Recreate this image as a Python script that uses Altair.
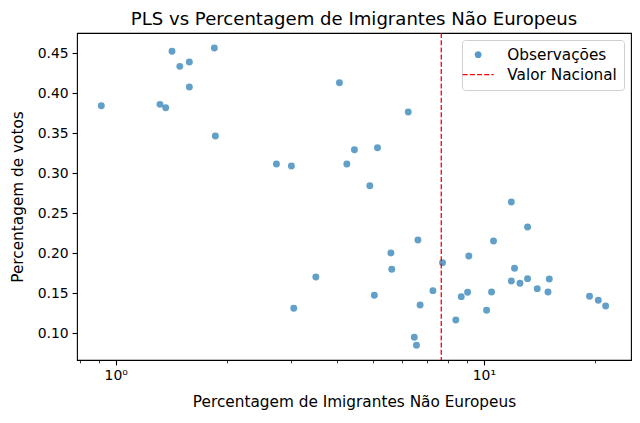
import altair as alt
import pandas as pd

pct_imigrantes = [0.914, 1.319, 1.367, 1.422, 1.493, 1.585, 1.585, 1.853, 1.865, 2.732,
                  3.001, 4.052, 4.244, 6.23, 4.45, 5.14, 4.90, 3.045, 3.496, 5.04,
                  5.59, 5.62, 6.62, 6.47, 6.56, 6.71, 7.27, 7.72, 8.39, 8.68,
                  9.03, 9.10, 10.17, 10.49, 10.62, 11.87, 12.11, 11.87, 12.53, 13.14,
                  13.14, 13.96, 14.93, 15.05, 19.36, 20.45, 21.41]
pct_votos = [0.3845, 0.3862, 0.382, 0.4525, 0.4337, 0.4391, 0.4079, 0.4566, 0.3466, 0.3116,
             0.3091, 0.4133, 0.3116, 0.3766, 0.3295, 0.332, 0.2845, 0.1312, 0.1704, 0.1475,
             0.2004, 0.18, 0.2166, 0.095, 0.085, 0.1354, 0.1533, 0.1883, 0.1166, 0.1458,
             0.1512, 0.1966, 0.1287, 0.1516, 0.2154, 0.2641, 0.1812, 0.1654, 0.1625, 0.2329,
             0.1683, 0.1558, 0.1516, 0.1679, 0.1462, 0.1412, 0.1341]
valor_nacional = [7.66]
major_ticks = [1, 10]
minor_ticks = [0.8, 0.9, 2, 3, 4, 5, 6, 7, 8, 9, 20]
y_ticks = [0.10, 0.15, 0.20, 0.25, 0.30, 0.35, 0.40, 0.45]
series = ["Observações", "Valor Nacional"]

FONT = "DejaVu Sans"

obs = pd.DataFrame({"x": pct_imigrantes, "y": pct_votos, "serie": series[0]})
nat = pd.DataFrame({"x": valor_nacional, "serie": series[1]})

xscale = alt.Scale(type="log", domain=[0.785, 25.09], nice=False)
yscale = alt.Scale(domain=[0.0666, 0.4754], nice=False, zero=False)
cscale = alt.Scale(domain=series, range=["#1f77b4", "red"])

is_nat = "datum.value == 'Valor Nacional'"
legend = alt.Legend(
    title=None, orient="top-right", offset=7, padding=7,
    strokeColor="#d0d0d0", fillColor="white", cornerRadius=3,
    labelFont=FONT, labelFontSize=15.3, labelColor="black",
    symbolSize=36, labelOffset=23, rowPadding=4,
    symbolType={"expr": f"{is_nat} ? 'M-4.67,0L5.67,0' : 'M1.65,0A1.15,1.15,0,1,1,-0.65,0A1.15,1.15,0,1,1,1.65,0Z'"},
    symbolStrokeWidth={"expr": f"{is_nat} ? 1.3 : 0"},
    symbolDash={"expr": f"{is_nat} ? [5, 2.2] : [1, 0]"},
    symbolOpacity={"expr": f"{is_nat} ? 1 : 0.75"},
)

points = alt.Chart(obs).mark_circle(size=48, opacity=0.7).encode(
    x=alt.X("x:Q", scale=xscale,
            axis=alt.Axis(values=major_ticks, orient="bottom",
                          labelExpr="datum.value == 1 ? '10⁰' : '10¹'",
                          title="Percentagem de Imigrantes Não Europeus",
                          titleFont=FONT, titleFontSize=15.3, titleFontWeight="normal",
                          titleColor="black", titlePadding=12,
                          labelFont=FONT, labelFontSize=13.9, labelColor="black",
                          labelPadding=4, tickSize=4.9, tickColor="black",
                          tickWidth=1.1, domain=False, grid=False)),
    y=alt.Y("y:Q", scale=yscale,
            axis=alt.Axis(values=y_ticks, format=".2f",
                          title="Percentagem de votos",
                          titleFont=FONT, titleFontSize=15.3, titleFontWeight="normal",
                          titleColor="black", titlePadding=12,
                          labelFont=FONT, labelFontSize=13.9, labelColor="black",
                          labelPadding=4, tickSize=4.9, tickColor="black",
                          tickWidth=1.1, domain=False, grid=False)),
    color=alt.Color("serie:N", scale=cscale, legend=legend),
)

rule = alt.Chart(nat).mark_rule(strokeDash=[5, 2.2], strokeWidth=1.3).encode(
    x=alt.X("x:Q", scale=xscale,
            axis=alt.Axis(values=minor_ticks, orient="bottom", labels=False,
                          title=None, tickSize=2.8, tickColor="black",
                          tickWidth=0.8, domain=False, grid=False)),
    color=alt.Color("serie:N", scale=cscale, legend=legend),
)

chart = alt.layer(points, rule).resolve_axis(x="independent").properties(
    width=554, height=327,
    title=alt.Title("PLS vs Percentagem de Imigrantes Não Europeus",
                    font=FONT, fontSize=18.1, fontWeight="normal", color="black",
                    offset=3, anchor="middle"),
    autosize=alt.AutoSizeParams(type="none"),
    padding={"left": 69, "top": 25, "right": 1, "bottom": 55},
).configure(background="white").configure_view(stroke="black", strokeWidth=1.1)

chart.save("out.html", embed_options={"renderer": "svg", "actions": False})
